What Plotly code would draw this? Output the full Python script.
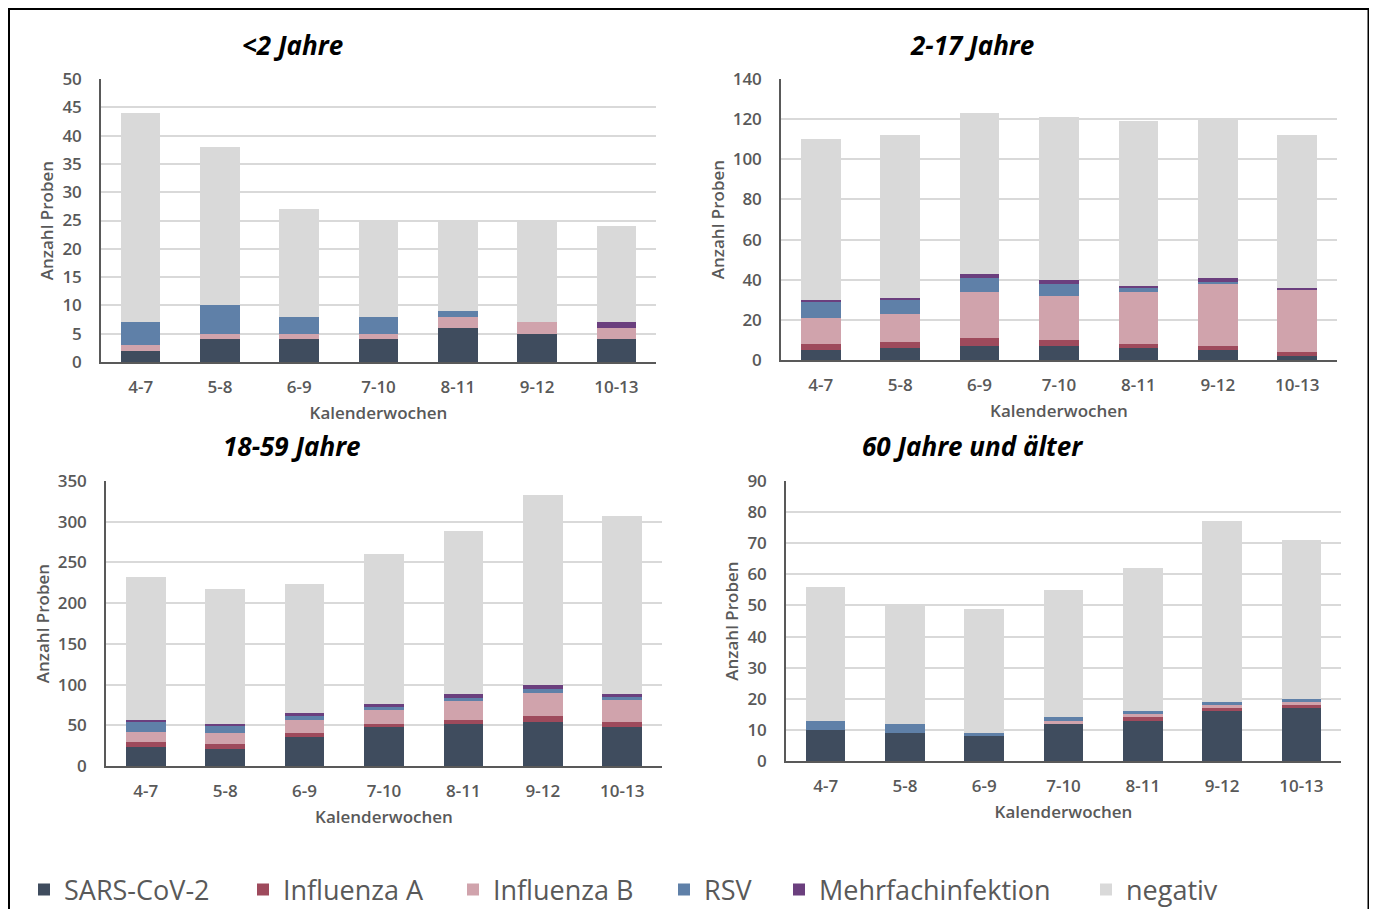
import plotly.graph_objects as go

weeks = ["4-7", "5-8", "6-9", "7-10", "8-11", "9-12", "10-13"]
series_names = ["SARS-CoV-2", "Influenza A", "Influenza B", "RSV", "Mehrfachinfektion", "negativ"]
colors = ["#3F4C5E", "#9E4A5C", "#D0A3AC", "#5F80A8", "#6B3F7E", "#D9D9D9"]

# <2 Jahre
u2_sars = [2, 4, 4, 4, 6, 5, 4]
u2_infa = [0, 0, 0, 0, 0, 0, 0]
u2_infb = [1, 1, 1, 1, 2, 2, 2]
u2_rsv = [4, 5, 3, 3, 1, 0, 0]
u2_mehr = [0, 0, 0, 0, 0, 0, 1]
u2_neg = [37, 28, 19, 17, 16, 18, 17]

# 2-17 Jahre
k_sars = [5, 6, 7, 7, 6, 5, 2]
k_infa = [3, 3, 4, 3, 2, 2, 2]
k_infb = [13, 14, 23, 22, 26, 31, 31]
k_rsv = [8, 7, 7, 6, 2, 1, 0]
k_mehr = [1, 1, 2, 2, 1, 2, 1]
k_neg = [80, 81, 80, 81, 82, 79, 76]

# 18-59 Jahre
e_sars = [23, 21, 36, 48, 52, 54, 48]
e_infa = [7, 6, 4, 4, 5, 7, 6]
e_infb = [12, 13, 16, 17, 23, 29, 27]
e_rsv = [12, 10, 6, 4, 4, 4, 4]
e_mehr = [3, 2, 3, 3, 4, 5, 4]
e_neg = [175, 165, 158, 184, 200, 234, 218]

# 60 Jahre und älter
s_sars = [10, 9, 8, 12, 13, 16, 17]
s_infa = [0, 0, 0, 0, 1, 1, 1]
s_infb = [0, 0, 0, 1, 1, 1, 1]
s_rsv = [3, 3, 1, 1, 1, 1, 1]
s_mehr = [0, 0, 0, 0, 0, 0, 0]
s_neg = [43, 38, 40, 41, 46, 58, 51]

panels = [
    ("&lt;2 Jahre", [u2_sars, u2_infa, u2_infb, u2_rsv, u2_mehr, u2_neg], 50, 5),
    ("2-17 Jahre", [k_sars, k_infa, k_infb, k_rsv, k_mehr, k_neg], 140, 20),
    ("18-59 Jahre", [e_sars, e_infa, e_infb, e_rsv, e_mehr, e_neg], 350, 50),
    ("60 Jahre und älter", [s_sars, s_infa, s_infb, s_rsv, s_mehr, s_neg], 90, 10),
]

OFF = 8  # browser body margin
W, H = 1377 - 2 * OFF, 917 - 2 * OFF
# plot areas in screen pixels: (left, right, top, bottom)
areas = [(101, 656, 79, 362), (781, 1337, 79, 360), (106, 662, 481, 766), (786, 1341, 481, 761)]
title_pos = [(292, 45), (972, 45), (292, 446), (972, 446)]
legend_text_x = [65, 284, 494, 705, 820, 1127]
legend_y = 890


def px(x):
    return (x - OFF) / W


def py(y):
    return 1 - (y - OFF) / H


fig = go.Figure()
layout = {}
annotations = []
FONT = "Open Sans"
GRAY = "#595959"
for i, (title, data, ymax, dt) in enumerate(panels):
    n = "" if i == 0 else str(i + 1)
    for s, (name, vals) in enumerate(zip(series_names, data)):
        fig.add_trace(go.Bar(
            x=weeks, y=vals, name=name, marker=dict(color=colors[s], line=dict(width=0)),
            xaxis="x" + n, yaxis="y" + n, legendgroup=name, showlegend=(i == 0),
            legend="legend" if s == 0 else "legend" + str(s + 1),
        ))
    l, r, t, b = areas[i]
    layout["xaxis" + n] = dict(
        domain=[px(l), px(r)], anchor="y" + n, showline=True, linecolor=GRAY, linewidth=1.5,
        tickfont=dict(family=FONT, size=17, color=GRAY, weight=600), ticks="", ticklabelstandoff=9,
        title=dict(text="Kalenderwochen", font=dict(family=FONT, size=17, color=GRAY, weight=600), standoff=10),
        showgrid=False, automargin=False,
    )
    layout["yaxis" + n] = dict(
        domain=[py(b), py(t)], anchor="x" + n, range=[0, ymax], dtick=dt,
        showline=True, linecolor=GRAY, linewidth=1.5, gridcolor="#D9D9D9", gridwidth=1.5,
        tickfont=dict(family=FONT, size=17, color=GRAY, weight=600), ticks="", ticklabelstandoff=14,
        title=dict(text="Anzahl Proben", font=dict(family=FONT, size=17, color=GRAY, weight=600), standoff=4),
        zeroline=False, automargin=False,
    )
    tx, ty = title_pos[i]
    annotations.append(dict(
        text="<b><i>" + title + "</i></b>", x=px(tx), y=py(ty), xref="paper", yref="paper",
        showarrow=False, xanchor="center", yanchor="middle",
        font=dict(family=FONT, size=26, color="#000000"),
    ))

for s in range(len(series_names)):
    key = "legend" if s == 0 else "legend" + str(s + 1)
    layout[key] = dict(
        orientation="h", x=px(legend_text_x[s] - 41 + OFF - OFF), y=py(legend_y),
        xref="paper", yref="paper", xanchor="left", yanchor="middle",
        font=dict(family=FONT, size=27, color=GRAY), bgcolor="rgba(0,0,0,0)",
    )

xl, xr, yt = px(9), px(1368.5), py(9)
border_path = f"M {xl},-0.2 L {xl},{yt} L {xr},{yt} L {xr},-0.2"

fig.update_layout(
    **layout,
    annotations=annotations,
    barmode="stack", bargap=0.5,
    width=W, height=H,
    margin=dict(l=0, r=0, t=0, b=0, autoexpand=False),
    paper_bgcolor="white", plot_bgcolor="white",
    shapes=[dict(type="path", xref="paper", yref="paper", path=border_path,
                 line=dict(color="black", width=2), layer="above")],
)

fig.write_html("out.html")
